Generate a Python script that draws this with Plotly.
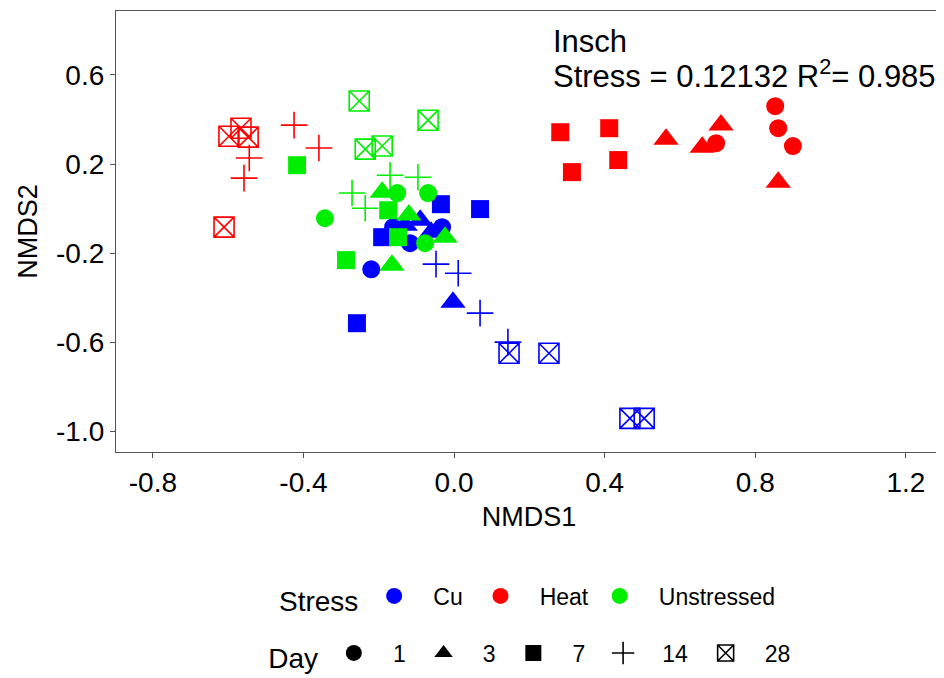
import plotly.graph_objects as go

# ---- data ----
stress_groups = ["Cu", "Heat", "Unstressed"]
stress_colors = {"Cu": "#0000FF", "Heat": "#FF0000", "Unstressed": "#00EE00"}
days = ["1", "3", "7", "14", "28"]
day_symbols = {"1": "circle", "3": "triangle-up", "7": "square",
               "14": "cross-thin-open", "28": "square-x-open"}

cu_x = {
    "1": [-0.220, -0.162, -0.117, -0.032],
    "3": [-0.090, -0.061, -0.003, -0.130],
    "7": [-0.035, 0.069, -0.258, -0.191],
    "14": [-0.048, 0.011, 0.069, 0.143],
    "28": [0.146, 0.252, 0.467, 0.505],
}
cu_y = {
    "1": [-0.272, -0.083, -0.155, -0.083],
    "3": [-0.052, -0.106, -0.420, -0.074],
    "7": [0.020, -0.002, -0.514, -0.128],
    "14": [-0.249, -0.290, -0.469, -0.599],
    "28": [-0.649, -0.649, -0.941, -0.941],
}
heat_x = {
    "1": [0.853, 0.861, 0.900, 0.696],
    "3": [0.563, 0.659, 0.709, 0.861],
    "7": [0.282, 0.412, 0.436, 0.313],
    "14": [-0.425, -0.359, -0.544, -0.558],
    "28": [-0.598, -0.566, -0.547, -0.611],
}
heat_y = {
    "1": [0.460, 0.361, 0.281, 0.294],
    "3": [0.312, 0.276, 0.375, 0.119],
    "7": [0.343, 0.361, 0.218, 0.164],
    "14": [0.375, 0.272, 0.227, 0.137],
    "28": [0.325, 0.361, 0.321, -0.083],
}
uns_x = {
    "1": [-0.343, -0.151, -0.069, -0.077],
    "3": [-0.191, -0.120, -0.024, -0.165],
    "7": [-0.417, -0.287, -0.175, -0.149],
    "14": [-0.170, -0.096, -0.271, -0.236],
    "28": [-0.252, -0.069, -0.236, -0.191],
}
uns_y = {
    "1": [-0.043, 0.070, 0.070, -0.155],
    "3": [0.074, -0.029, -0.128, -0.254],
    "7": [0.195, -0.231, -0.007, -0.128],
    "14": [0.150, 0.141, 0.070, 0.002],
    "28": [0.483, 0.397, 0.267, 0.281],
}
data_x = {"Cu": cu_x, "Heat": heat_x, "Unstressed": uns_x}
data_y = {"Cu": cu_y, "Heat": heat_y, "Unstressed": uns_y}

x_ticks = [-0.8, -0.4, 0.0, 0.4, 0.8, 1.2]
x_labels = ["-0.8", "-0.4", "0.0", "0.4", "0.8", "1.2"]
y_ticks = [-1.0, -0.6, -0.2, 0.2, 0.6]
y_labels = ["-1.0", "-0.6", "-0.2", "0.2", "0.6"]

sizes = {"1": 18, "3": 22, "7": 18, "14": 19, "28": 20}
FONT = "Liberation Sans, Arial, sans-serif"

# page body has an 8px default margin: size the figure to fill the rest
W, H = 936, 670

fig = go.Figure()

for s in stress_groups:
    for d in days:
        sym = day_symbols[d]
        open_sym = sym.endswith("open")
        fig.add_trace(go.Scatter(
            x=data_x[s][d], y=data_y[s][d], mode="markers",
            showlegend=False,
            marker=dict(symbol=sym, size=sizes[d], color=stress_colors[s],
                        line=dict(width=1.6 if open_sym else 0,
                                  color=stress_colors[s])),
        ))

# legend: Stress
stress_pad = {"Cu": "  ", "Heat": " ", "Unstressed": ""}
for s in stress_groups:
    fig.add_trace(go.Scatter(
        x=[None], y=[None], mode="markers", name="   " + s + stress_pad[s],
        legend="legend",
        marker=dict(symbol="circle", size=18, color=stress_colors[s]),
    ))
# legend: Day
for d in days:
    sym = day_symbols[d]
    open_sym = sym.endswith("open")
    fig.add_trace(go.Scatter(
        x=[None], y=[None], mode="markers", name="   " + d + "  ",
        legend="legend2",
        marker=dict(symbol=sym, size=sizes[d], color="black",
                    line=dict(width=1.6 if open_sym else 0, color="black")),
    ))

fig.add_annotation(
    x=0.258, y=0.749, xref="x", yref="y", xanchor="left", yanchor="middle",
    text="Insch", showarrow=False, align="left",
    font=dict(family=FONT, size=31, color="black"))
fig.add_annotation(
    x=0.258, y=0.605, xref="x", yref="y", xanchor="left", yanchor="middle",
    text="Stress = 0.12132 R<sup>2</sup>= 0.985", showarrow=False, align="left",
    font=dict(family=FONT, size=31, color="black"))

axis_common = dict(
    showgrid=False, zeroline=False, showline=True, mirror=True,
    linecolor="#555555", linewidth=1.2, ticks="outside", ticklen=5,
    tickcolor="#555555", tickwidth=1.2, automargin=False,
    tickfont=dict(family=FONT, size=28, color="black"),
)

fig.update_layout(
    width=W, height=H,
    paper_bgcolor="white", plot_bgcolor="white",
    margin=dict(l=108, r=2, t=3, b=226, autoexpand=False),
    font=dict(family=FONT, color="black"),
    xaxis=dict(range=[-0.898, 1.296], tickvals=x_ticks, ticktext=x_labels,
               title=dict(text="NMDS1", font=dict(size=27), standoff=10),
               **axis_common),
    yaxis=dict(range=[-1.092, 0.887], tickvals=y_ticks, ticktext=y_labels,
               title=dict(text="NMDS2", font=dict(size=27), standoff=10),
               **axis_common),
    legend=dict(orientation="h", x=0.5, xanchor="center", xref="paper",
                y=1 - 590 / H, yanchor="middle", yref="container",
                title=dict(text="Stress ", font=dict(size=28), side="left"),
                font=dict(size=23), itemsizing="trace"),
    legend2=dict(orientation="h", x=0.51, xanchor="center", xref="paper",
                 y=1 - 647 / H, yanchor="middle", yref="container",
                 title=dict(text="Day ", font=dict(size=28), side="left"),
                 font=dict(size=23), itemsizing="trace"),
)

fig.write_html("out.html")
